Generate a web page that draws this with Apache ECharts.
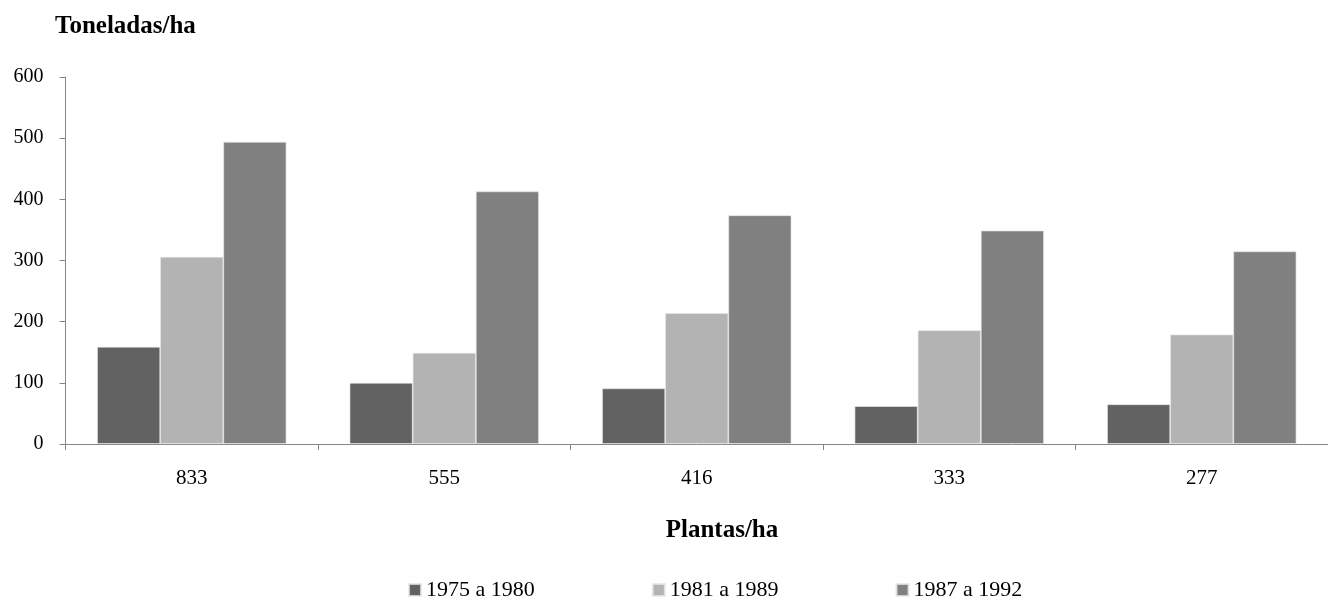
<!DOCTYPE html>
<html>
<head>
<meta charset="utf-8">
<script src="https://cdn.jsdelivr.net/npm/echarts@6/dist/echarts.min.js"></script>
<style>
html,body{margin:0;padding:0;background:#fff;}
#chart{width:1328px;height:599px;}
</style>
</head>
<body>
<div id="chart"></div>
<script>
const categories = ['833', '555', '416', '333', '277'];
const seriesNames = ['1975 a 1980', '1981 a 1989', '1987 a 1992'];
const values1975 = [159, 100, 91, 62, 65];
const values1981 = [306, 149, 214, 186, 179];
const values1987 = [494, 413, 374, 349, 315];
const yTicks = [0, 100, 200, 300, 400, 500, 600];
const colors = ['#626262', '#b3b3b3', '#808080'];

const FONT = '"Liberation Serif", "Times New Roman", serif';
const chart = echarts.init(document.getElementById('chart'), null, {renderer: 'canvas'});
const allValues = [values1975, values1981, values1987];

chart.setOption({
  animation: false,
  backgroundColor: '#ffffff',
  textStyle: {fontFamily: FONT, color: '#000'},
  title: [
    {text: 'Toneladas/ha', left: 50, top: 9,
     textStyle: {fontFamily: FONT, fontSize: 25, fontWeight: 'bold', color: '#000'}},
    {text: 'Plantas/ha', left: 717, top: 513, textAlign: 'center',
     textStyle: {fontFamily: FONT, fontSize: 25, fontWeight: 'bold', color: '#000'}}
  ],
  legend: {
    data: seriesNames,
    left: 403, top: 574,
    itemWidth: 12, itemHeight: 12, itemGap: 117,
    icon: 'rect',
    textStyle: {fontFamily: FONT, fontSize: 22, color: '#000'}
  },
  grid: {left: 65.5, top: 77, bottom: 155, width: 1271.5, containLabel: false},
  xAxis: {
    type: 'category',
    data: categories,
    boundaryGap: true,
    axisLine: {show: true, lineStyle: {color: '#868686', width: 1}},
    axisTick: {show: true, length: 6, alignWithLabel: false, lineStyle: {color: '#868686'}},
    axisLabel: {fontFamily: FONT, fontSize: 21, color: '#000', margin: 24},
    splitLine: {show: false}
  },
  yAxis: {
    type: 'value',
    min: yTicks[0], max: yTicks[yTicks.length - 1], interval: 100,
    axisLine: {show: true, lineStyle: {color: '#868686', width: 1}},
    axisTick: {show: true, length: 6, inside: false, lineStyle: {color: '#868686'}},
    axisLabel: {fontFamily: FONT, fontSize: 20, color: '#000', margin: 22, padding: [5, 0, 0, 0]},
    splitLine: {show: false}
  },
  series: seriesNames.map((name, i) => ({
    name: name,
    type: 'bar',
    data: allValues[i],
    barGap: '0%',
    barCategoryGap: '25%',
    itemStyle: {color: colors[i], borderColor: 'rgba(230,230,230,0.8)', borderWidth: 0.8}
  }))
});
</script>
</body>
</html>
